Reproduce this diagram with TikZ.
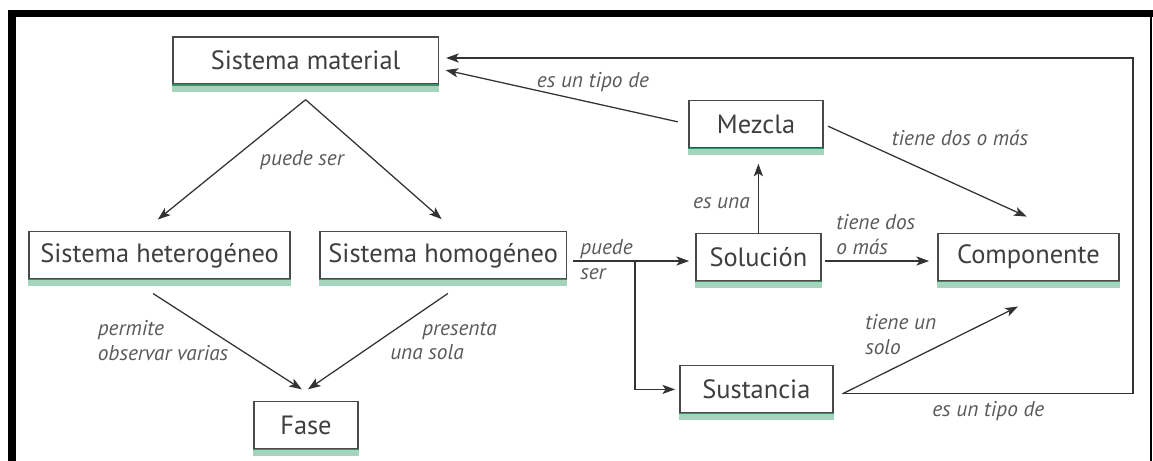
\documentclass[tikz,border=0pt]{standalone}
\usepackage{fontspec}
\setmainfont{PT Sans}
\usetikzlibrary{arrows.meta}

\definecolor{boxline}{HTML}{4A4A4A}
\definecolor{txtgray}{HTML}{3F3F3F}
\definecolor{lblgray}{HTML}{5A5A5A}
\definecolor{bardark}{HTML}{3A8F66}
\definecolor{barlight}{HTML}{A6D3BC}

\tikzset{
  concept/.style={draw=boxline, line width=1pt, fill=white, inner sep=0pt,
    minimum height=1.18cm, text=txtgray, font=\fontsize{18.8}{22}\selectfont},
  link/.style={text=lblgray, font=\fontsize{15.2}{17.7}\selectfont\itshape,
    inner sep=0pt, align=left},
  arr/.style={draw=black!80, line width=0.9pt,
    -{Stealth[length=9pt,width=6.5pt,inset=2.2pt]}},
}

\begin{document}
\begin{tikzpicture}
  \useasboundingbox (0,0) rectangle (28.825,11.525);
  % frame
  \fill (0.2,11.1) rectangle (28.825,11.275);
  \fill (0.2,0) rectangle (0.4,11.275);
  \draw[line width=1.8pt] (28.775,0) -- (28.775,11.275);

  \node[concept, minimum width=6.63cm] (mat) at (7.64,10.01) {Sistema material};
  \node[concept, minimum width=3.35cm] (mez) at (18.9,8.42) {Mezcla};
  \node[concept, minimum width=6.53cm] (het) at (3.99,5.14) {Sistema heterogéneo};
  \node[concept, minimum width=6.15cm] (hom) at (11.08,5.14) {Sistema homogéneo};
  \node[concept, minimum width=3.13cm] (sol) at (18.96,5.1) {Solución};
  \node[concept, minimum width=4.53cm] (comp) at (25.71,5.1) {Componente};
  \node[concept, minimum width=3.83cm] (sus) at (18.91,1.79) {Sustancia};
  \node[concept, minimum width=2.6cm] (fase) at (7.65,0.89) {Fase};

  % green bars under the boxes
  \foreach \n in {mat,mez,het,hom,sol,comp,sus,fase}{
    \fill[barlight] (\n.south west) rectangle ([yshift=-0.17cm]\n.south east);
    \draw[bardark, line width=1pt] (\n.south west) -- (\n.south east);
  }

  \coordinate (split) at ([yshift=-0.37cm]mat.south);
  \coordinate (br) at (15.875,5.0);
  \coordinate (susout) at ([xshift=0.22cm,yshift=-0.11cm]sus.east);
  \coordinate (cor) at (28.325,10.075);

  \draw[arr, shorten >=0.46cm] (split) -- ([xshift=-0.4cm]het.north);
  \draw[arr, shorten >=0.45cm] (split) -- ([xshift=0.3cm]hom.north);
  \draw[arr, shorten <=0.64cm, shorten >=0.54cm] ([xshift=-0.7cm]het.south) -- ([xshift=0.35cm]fase.north);
  \draw[arr, shorten <=0.61cm, shorten >=0.52cm] ([xshift=0.62cm]hom.south) -- ([xshift=-0.38cm]fase.north);
  \draw[arr, shorten <=0.15cm, shorten >=0.15cm] (hom.east |- br) -- (sol.west |- br);
  \draw[arr, shorten >=0.1cm] (br) |- (sus.west);
  \draw[arr, shorten >=0.38cm] (sol.north) -- (sol.north |- mez.south);
  \draw[arr, shorten <=0.08cm, shorten >=0.2cm] (sol.east |- br) -- (comp.west |- br);
  \draw[arr, shorten <=0.12cm, shorten >=0.97cm] (mez.east) -- ([xshift=0.84cm]comp.north);
  \draw[arr, shorten >=1.42cm] (susout) -- ([xshift=1.01cm]comp.south);
  \draw[arr, shorten >=0.18cm] (susout) -| (cor) -- (cor -| mat.east);
  \draw[arr, shorten <=0.27cm, shorten >=0.17cm] (mez.west) -- ([yshift=-0.2cm]mat.east);

  \node[link] at (7.55,7.525) {puede ser};
  \node[link] at (4.075,3.0) {permite\\observar varias};
  \node[link, anchor=west] at (9.75,3.0) {\hspace*{0.8cm}presenta\\una sola};
  \node[link, anchor=west] at (14.5,5.025) {puede\\ser};
  \node[link, anchor=east] at (18.75,6.45) {es una};
  \node[link, anchor=west] at (20.9,5.65) {tiene dos\\o más};
  \node[link] at (24.0,8.075) {tiene dos o más};
  \node[link, anchor=west] at (21.625,3.1625) {tiene un\\solo};
  \node[link, anchor=west] at (23.3,1.25) {es un tipo de};
  \node[link] at (14.825,9.475) {es un tipo de};
\end{tikzpicture}
\end{document}
